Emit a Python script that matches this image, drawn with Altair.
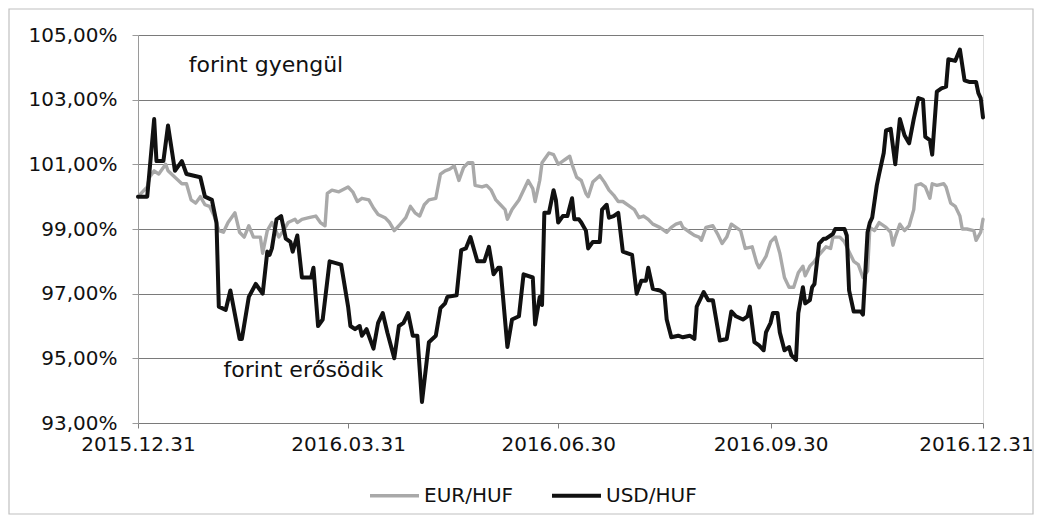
import altair as alt
import pandas as pd

# Days since 2015-12-31 and index values (%)
usd_days = [0, 4, 7, 8, 11, 13, 16, 19, 21, 27, 29, 32, 34, 35, 38, 40, 44, 45, 48, 51,
            54, 56, 57, 58, 60, 62, 64, 66, 67, 69, 71, 75, 76, 78, 80, 83, 88, 91, 92, 94,
            96, 97, 99, 102, 104, 106, 108, 111, 113, 115, 117, 119, 121, 123, 126, 129, 131, 133, 134, 138,
            140, 142, 144, 146, 147, 150, 152, 154, 156, 157, 160, 162, 165, 167, 171, 172, 174, 175, 176, 178,
            180, 181, 182, 184, 186, 188, 189, 191, 192, 194, 195, 197, 200, 201, 203, 204, 206, 208, 210, 214,
            216, 218, 220, 221, 223, 226, 228, 229, 231, 234, 236, 239, 241, 242, 245, 247, 249, 252, 255, 257,
            259, 262, 264, 265, 267, 269, 271, 272, 274, 275, 277, 278, 280, 282, 283, 285, 286, 288, 289, 291,
            292, 293, 295, 297, 298, 301, 302, 306, 307, 308, 310, 313, 314, 316, 317, 318, 320, 321, 323, 324,
            326, 328, 330, 332, 334, 336, 338, 340, 341, 343, 344, 346, 348, 350, 351, 354, 356, 358, 360, 363,
            364, 365, 366]
usd_vals = [100.0, 100.0, 102.4, 101.1, 101.1, 102.2, 100.8, 101.1, 100.7, 100.6, 100.0, 99.9, 99.2, 96.6, 96.5, 97.1, 95.6, 95.6, 96.9, 97.3,
            97.0, 98.3, 98.2, 98.4, 99.3, 99.4, 98.7, 98.6, 98.3, 98.8, 97.5, 97.5, 97.8, 96.0, 96.2, 98.0, 97.9, 96.6, 96.0, 95.9,
            96.0, 95.7, 95.9, 95.3, 96.1, 96.4, 95.8, 95.0, 96.0, 96.1, 96.4, 95.7, 95.7, 93.65, 95.5, 95.7, 96.55, 96.7, 96.9, 96.95,
            98.35, 98.4, 98.75, 98.25, 98.0, 98.0, 98.45, 97.6, 97.8, 97.8, 95.35, 96.2, 96.3, 97.6, 97.5, 96.05, 96.9, 96.65, 99.5, 99.5,
            100.2, 99.9, 99.2, 99.4, 99.4, 99.95, 99.3, 99.3, 99.2, 98.95, 98.4, 98.6, 98.6, 99.6, 99.75, 99.35, 99.4, 99.5, 98.3, 98.2,
            97.0, 97.4, 97.4, 97.8, 97.15, 97.1, 97.0, 96.2, 95.65, 95.7, 95.65, 95.7, 95.6, 96.6, 97.05, 96.8, 96.8, 95.55, 95.6, 96.45,
            96.3, 96.2, 96.3, 96.6, 95.5, 95.4, 95.25, 95.8, 96.1, 96.4, 96.4, 95.8, 95.25, 95.35, 95.1, 94.95, 96.4, 97.2, 96.7, 96.8,
            97.2, 97.3, 98.55, 98.7, 98.7, 98.85, 99.0, 99.0, 98.8, 97.1, 96.45, 96.45, 96.35, 98.9, 99.2, 99.35, 100.35, 100.7, 101.35, 102.05,
            102.1, 101.0, 102.4, 101.9, 101.65, 102.4, 103.05, 103.0, 101.85, 101.75, 101.3, 103.25, 103.35, 103.4, 104.25, 104.2, 104.55, 103.6, 103.55, 103.55,
            103.2, 103.05, 102.45]

eur_days = [0, 4, 5, 7, 9, 12, 13, 16, 19, 21, 23, 25, 27, 29, 31, 33, 35, 37, 39, 42,
            44, 46, 48, 50, 53, 54, 56, 58, 61, 63, 65, 68, 69, 71, 74, 77, 79, 81, 82, 84,
            87, 91, 93, 95, 97, 100, 102, 104, 107, 109, 111, 113, 116, 118, 120, 122, 124, 126, 129, 131,
            133, 135, 137, 139, 141, 143, 145, 146, 149, 151, 153, 155, 157, 159, 160, 162, 165, 167, 169, 171,
            172, 174, 175, 178, 180, 182, 184, 185, 187, 188, 190, 192, 194, 195, 197, 200, 202, 204, 206, 208,
            210, 213, 215, 217, 219, 221, 223, 226, 229, 231, 233, 235, 236, 239, 241, 243, 244, 246, 249, 251,
            253, 255, 257, 259, 261, 263, 266, 268, 269, 272, 274, 276, 278, 280, 282, 284, 286, 288, 289, 291,
            293, 295, 298, 300, 301, 304, 306, 308, 310, 312, 314, 316, 317, 319, 321, 324, 326, 327, 328, 330,
            332, 334, 336, 337, 339, 341, 343, 344, 346, 349, 350, 352, 354, 356, 357, 359, 362, 363, 365, 366]
eur_vals = [100.0, 100.3, 100.6, 100.8, 100.7, 101.0, 100.8, 100.6, 100.4, 100.4, 99.9, 99.8, 100.0, 99.75, 99.7, 99.4, 98.95, 98.9, 99.2, 99.5,
            98.9, 98.75, 99.1, 98.75, 98.75, 98.25, 98.95, 99.2, 98.75, 98.95, 99.2, 99.3, 99.2, 99.3, 99.35, 99.4, 99.2, 99.1, 100.1, 100.2,
            100.15, 100.3, 100.15, 99.85, 99.95, 99.9, 99.65, 99.45, 99.35, 99.2, 98.95, 99.1, 99.35, 99.7, 99.5, 99.4, 99.75, 99.9, 99.95, 100.7,
            100.8, 100.85, 100.95, 100.5, 100.9, 101.05, 101.05, 100.35, 100.3, 100.35, 100.2, 99.9, 99.75, 99.6, 99.3, 99.6, 99.9, 100.2, 100.5, 100.25,
            99.85, 100.5, 101.05, 101.35, 101.3, 101.0, 101.1, 101.15, 101.25, 101.0, 100.6, 100.5, 100.1, 100.0, 100.45, 100.65, 100.45, 100.2, 100.05, 99.85,
            99.85, 99.7, 99.6, 99.35, 99.4, 99.3, 99.15, 99.05, 98.9, 99.05, 99.15, 99.2, 99.05, 98.9, 98.8, 98.75, 98.65, 99.05, 99.1, 98.85,
            98.55, 98.75, 99.15, 99.05, 98.95, 98.4, 98.45, 97.95, 97.8, 98.15, 98.6, 98.75, 98.25, 97.5, 97.2, 97.2, 97.65, 97.85, 97.55, 97.85,
            98.0, 98.2, 98.45, 98.4, 98.75, 98.75, 98.6, 98.3, 98.0, 97.9, 97.5, 97.7, 99.05, 98.95, 99.2, 99.05, 98.9, 98.5, 98.75, 99.15,
            98.95, 99.1, 99.6, 100.35, 100.4, 100.3, 99.95, 100.4, 100.35, 100.4, 100.3, 99.8, 99.7, 99.4, 99.0, 99.0, 98.95, 98.65, 98.9, 99.3]

series_names = ["EUR/HUF", "USD/HUF"]
series_colors = ["#a9a9a9", "#111111"]
series_widths = [3.4, 4.0]
y_ticks = [93, 95, 97, 99, 101, 103, 105]
notes = ["forint gyengül", "forint erősödik"]
note_days = [22, 37]
note_vals = [104.07, 94.64]

FONT = "DejaVu Sans"
start = pd.Timestamp("2015-12-31")


def to_dates(days):
    return [(start + pd.Timedelta(days=int(d))).strftime("%Y-%m-%dT00:00:00") for d in days]


df = pd.concat([
    pd.DataFrame({"date": to_dates(eur_days), "value": eur_vals, "series": series_names[0]}),
    pd.DataFrame({"date": to_dates(usd_days), "value": usd_vals, "series": series_names[1]}),
], ignore_index=True)

notes_df = pd.DataFrame({"date": to_dates(note_days), "value": note_vals, "text": notes})

x_dom = [alt.DateTime(year=2015, month=12, date=31), alt.DateTime(year=2016, month=12, date=31)]
x_ticks = [alt.DateTime(year=2015, month=12, date=31), alt.DateTime(year=2016, month=3, date=31),
           alt.DateTime(year=2016, month=6, date=30), alt.DateTime(year=2016, month=9, date=30),
           alt.DateTime(year=2016, month=12, date=31)]

x_enc = alt.X("date:T", scale=alt.Scale(domain=x_dom),
              axis=alt.Axis(values=x_ticks, format="%Y.%m.%d", title=None, grid=False, domain=False,
                            tickSize=5, tickColor="#808080", labelFontSize=20, labelPadding=6,
                            labelOffset={"condition": {"test": "datum.value > 1480000000000", "value": -7},
                                         "value": 0},
                            labelFlush=False, labelOverlap=False, labelColor="#111", labelFont=FONT))
y_enc = alt.Y("value:Q", scale=alt.Scale(domain=[93, 105], nice=False, zero=False),
              axis=alt.Axis(values=y_ticks, title=None, grid=True, gridColor="#7a7a7a", gridWidth=1.2,
                            domain=True, domainColor="#9a9a9a", tickSize=6, tickColor="#9a9a9a",
                            labelExpr="replace(format(datum.value, '.2f'), '.', ',') + '%'",
                            labelFontSize=20, labelPadding=15, labelColor="#111", labelFont=FONT))

lines = alt.Chart(df).mark_line(strokeJoin="round", strokeCap="round").encode(
    x=x_enc, y=y_enc,
    color=alt.Color("series:N", sort=series_names,
                    scale=alt.Scale(domain=series_names, range=series_colors),
                    legend=alt.Legend(title=None, orient="none", direction="horizontal",
                                      legendX=230, legendY=434, symbolType="stroke",
                                      symbolStrokeWidth=4, symbolSize=2400, labelFontSize=20,
                                      labelFont=FONT, labelColor="#111", columnPadding=30,
                                      labelOffset=3)),
    strokeWidth=alt.StrokeWidth("series:N", scale=alt.Scale(domain=series_names, range=series_widths),
                                legend=None),
    order=alt.Order("date:T"),
)

texts = alt.Chart(notes_df).mark_text(align="left", baseline="middle", fontSize=22, font=FONT,
                                      color="#111").encode(
    x=alt.X("date:T"), y=alt.Y("value:Q"), text="text:N")

frame = alt.Chart(pd.DataFrame({"a": [0]})).mark_rect(fill=None, stroke="#c0c0c0", strokeWidth=1.2).encode(
    x=alt.value(-129), x2=alt.value(895), y=alt.value(-26), y2=alt.value(479))

chart = alt.layer(frame, lines, texts).properties(
    width=845, height=388,
    autosize=alt.AutoSizeParams(type="none"),
    padding={"left": 130, "top": 27, "right": 52, "bottom": 93},
).configure_view(stroke=None).configure(background="white")

chart.save("out.html", embed_options={"renderer": "svg", "actions": False})
